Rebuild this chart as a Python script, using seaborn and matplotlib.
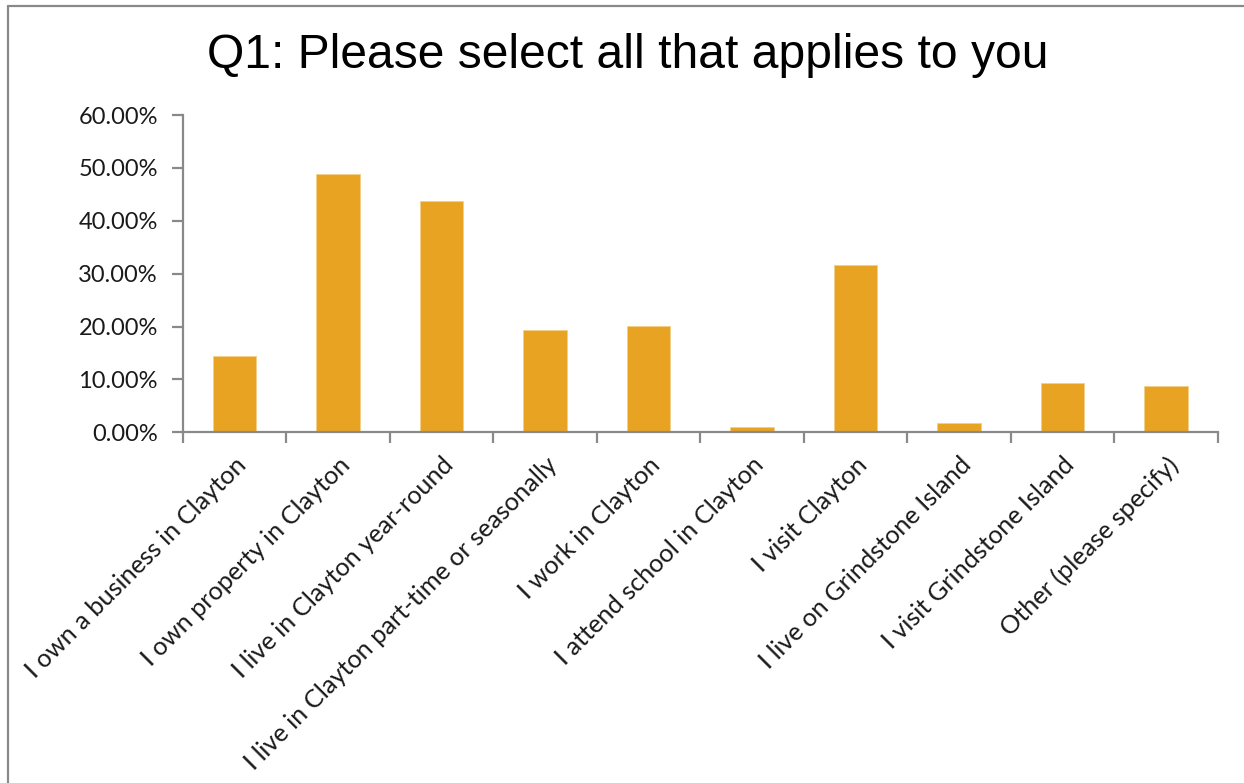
import matplotlib
matplotlib.use("Agg")
import matplotlib.pyplot as plt
import matplotlib.ticker as mticker
from matplotlib.lines import Line2D
import seaborn as sns
import pandas as pd
import numpy as np

categories = [
    "I own a business in Clayton",
    "I own property in Clayton",
    "I live in Clayton year-round",
    "I live in Clayton part-time or seasonally",
    "I work in Clayton",
    "I attend school in Clayton",
    "I visit Clayton",
    "I live on Grindstone Island",
    "I visit Grindstone Island",
    "Other (please specify)",
]
shares = [0.145, 0.489, 0.438, 0.193, 0.201, 0.010, 0.316, 0.018, 0.094, 0.087]

title = "Q1: Please select all that applies to you"
bar_color = "#E8A323"
axis_gray = "#898989"

sns.set_theme(style="white")
plt.rcParams["font.family"] = ["Lato", "DejaVu Sans"]

df = pd.DataFrame({"category": categories, "share": shares})

fig = plt.figure(figsize=(12.44, 7.83), dpi=100)
ax = fig.add_axes([0.147, 0.448, 0.832, 0.405])

sns.barplot(data=df, x="category", y="share", color=bar_color,
            width=0.42, saturation=1, edgecolor="#F3D08A", linewidth=0.6, ax=ax)

ax.set_xlim(-0.5, len(categories) - 0.5)
ax.set_ylim(0, 0.60)
ax.yaxis.set_major_locator(mticker.MultipleLocator(0.10))
ax.yaxis.set_major_formatter(mticker.FuncFormatter(lambda v, _: f"{v*100:.2f}%"))
ax.set_xlabel("")
ax.set_ylabel("")

for side in ("top", "right"):
    ax.spines[side].set_visible(False)
for side in ("left", "bottom"):
    ax.spines[side].set_color(axis_gray)
    ax.spines[side].set_linewidth(1.6)

# category boundaries carry the x tick marks
ax.xaxis.set_minor_locator(mticker.FixedLocator(np.arange(-0.5, len(categories), 1.0)))
ax.tick_params(axis="x", which="major", length=0, pad=15)
ax.tick_params(axis="x", which="minor", length=8, width=1.6, color=axis_gray, direction="out", bottom=True)
ax.tick_params(axis="y", which="major", length=8, width=1.6, color=axis_gray, direction="out", left=True, pad=10,
               labelsize=17, labelcolor="#1a1a1a")

ax.set_xticks(range(len(categories)))
ax.set_xticklabels(categories, rotation=45, ha="right", rotation_mode="anchor",
                   fontsize=18.2, color="#1a1a1a")

fig.text(0.5045, 0.929, title, ha="center", va="center", fontsize=34.6,
         family=["Liberation Sans", "DejaVu Sans"], color="#000000")

# chart-area frame
fig.add_artist(Line2D([0.0065, 0.0065], [0.0, 0.992], transform=fig.transFigure,
                      color=axis_gray, linewidth=1.6))
fig.add_artist(Line2D([0.0065, 1.0], [0.992, 0.992], transform=fig.transFigure,
                      color=axis_gray, linewidth=1.6))

fig.savefig("out.png", dpi=100, facecolor="white")
